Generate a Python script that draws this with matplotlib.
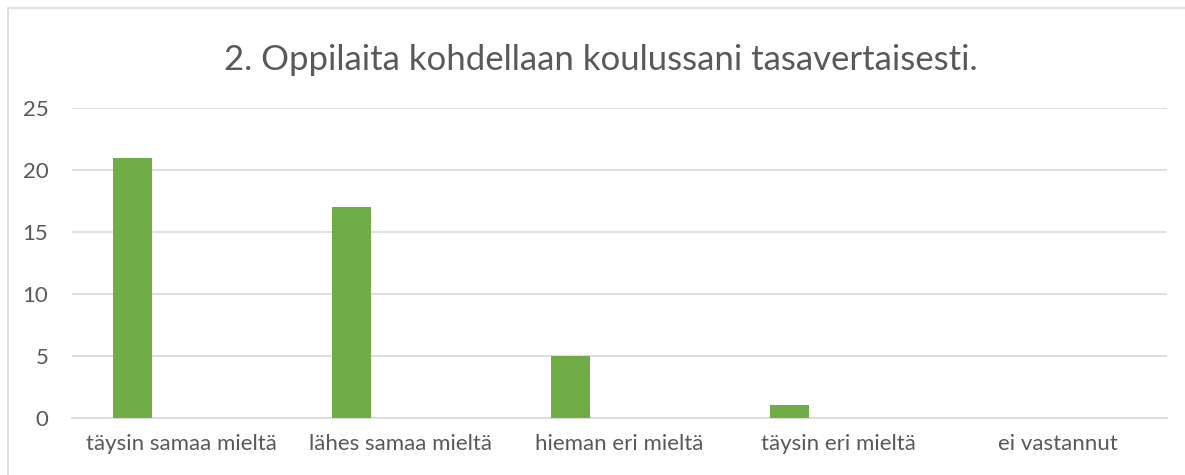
import matplotlib
matplotlib.use("Agg")
import matplotlib.pyplot as plt
from matplotlib.patches import Rectangle
import numpy as np

categories = ["täysin samaa mieltä", "lähes samaa mieltä", "hieman eri mieltä",
              "täysin eri mieltä", "ei vastannut"]
values = [21, 17, 5, 1, 0]
title = "2. Oppilaita kohdellaan koulussani tasavertaisesti."

plt.rcParams['font.family'] = ['Lato', 'DejaVu Sans']
text_col = '#595959'

fig = plt.figure(figsize=(11.85, 4.75), dpi=100)
ax = fig.add_axes([72 / 1185, 1 - 417.5 / 475, (1167 - 72) / 1185, (417.5 - 108.3) / 475])

x = np.arange(len(categories))
ax.bar(x - 0.224, values, width=0.178, color='#70AD47', zorder=3)

ax.set_xlim(-0.5, len(categories) - 0.5)
ax.set_ylim(0, 25)
ax.set_yticks(range(0, 26, 5))
ax.set_xticks(x)
ax.set_xticklabels(categories)
ax.tick_params(axis='both', length=0, labelsize=16, colors=text_col)
ax.tick_params(axis='x', pad=12)
ax.tick_params(axis='y', pad=17)
ax.grid(axis='y', color='#D9D9D9', linewidth=1.2, zorder=0)
for s in ['top', 'right', 'left']:
    ax.spines[s].set_visible(False)
ax.spines['bottom'].set_color('#D9D9D9')
ax.spines['bottom'].set_linewidth(1.2)

fig.text(601 / 1185, 1 - 60 / 475, title, ha='center', va='center',
         fontsize=25, color=text_col)

# chart border
fig.patches.append(Rectangle((8 / 1185, -0.1), 1.2, 1 - 8 / 475 + 0.1,
                             transform=fig.transFigure, fill=False,
                             edgecolor='#D9D9D9', linewidth=1.2))

fig.savefig("out.png", dpi=100)
